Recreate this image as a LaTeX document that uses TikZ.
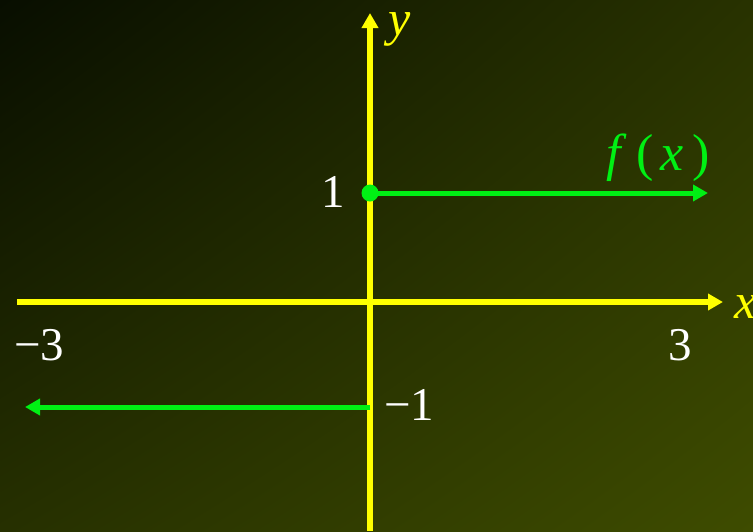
\documentclass[tikz,border=0pt]{standalone}
\usepackage{fontspec}
\setmainfont{Liberation Serif}
\usetikzlibrary{arrows.meta,shadings}
\definecolor{bgtl}{RGB}{8,14,0}
\definecolor{bgtr}{RGB}{40,50,0}
\definecolor{bgbl}{RGB}{38,48,0}
\definecolor{bgbr}{RGB}{62,76,0}
\definecolor{axisyellow}{RGB}{255,255,0}
\definecolor{fgreen}{RGB}{0,240,20}
\tikzset{
  axisline/.style={draw=axisyellow, line width=5.2pt, -{Triangle[length=15pt,width=16pt]}},
  graphline/.style={draw=fgreen, line width=5pt, -{Triangle[length=15pt,width=16pt]}},
  lbl/.style={inner sep=0pt, anchor=base west, font=\fontsize{47}{50}\selectfont},
}
\begin{document}
\begin{tikzpicture}[x=1pt,y=-1pt]
\shade[upper left=bgtl, upper right=bgtr, lower left=bgbl, lower right=bgbr] (0,0) rectangle (753,531);
\useasboundingbox (0,0) rectangle (753,531);
\coordinate (xl) at (17,302);
\coordinate (xr) at (723,302);
\coordinate (yb) at (370,531);
\coordinate (yt) at (370,13);
\draw[axisline] (xl) -- (xr);
\draw[axisline] (yb) -- (yt);
\node[circle, fill=fgreen, inner sep=0pt, minimum size=17pt] (p1) at (370,193) {};
\coordinate (e1) at (708,193);
\coordinate (p2) at (370,407);
\coordinate (e2) at (25,407);
\draw[graphline] (p1.center) -- (e1);
\draw[graphline] (p2) -- (e2);
\node[lbl, text=axisyellow, font=\fontsize{50}{52}\selectfont] (ylab) at (388,35) {\itshape y};
\node[lbl, text=axisyellow, font=\fontsize{50}{52}\selectfont] (xlab) at (734,318) {\itshape x};
\node[lbl, text=white] (one) at (321,207) {1};
\node[lbl, text=white] (three) at (668,360) {3};
\node[lbl, text=white] (mthree) at (14,360) {−3};
\node[lbl, text=white] (mone) at (384,420) {−1};
\node[lbl, text=fgreen, font=\fontsize{52}{54}\selectfont] (flab) at (606,170) {{\itshape f}\hspace{16pt}(\hspace{7pt}{\itshape x}\hspace{8pt})};
\end{tikzpicture}
\end{document}
